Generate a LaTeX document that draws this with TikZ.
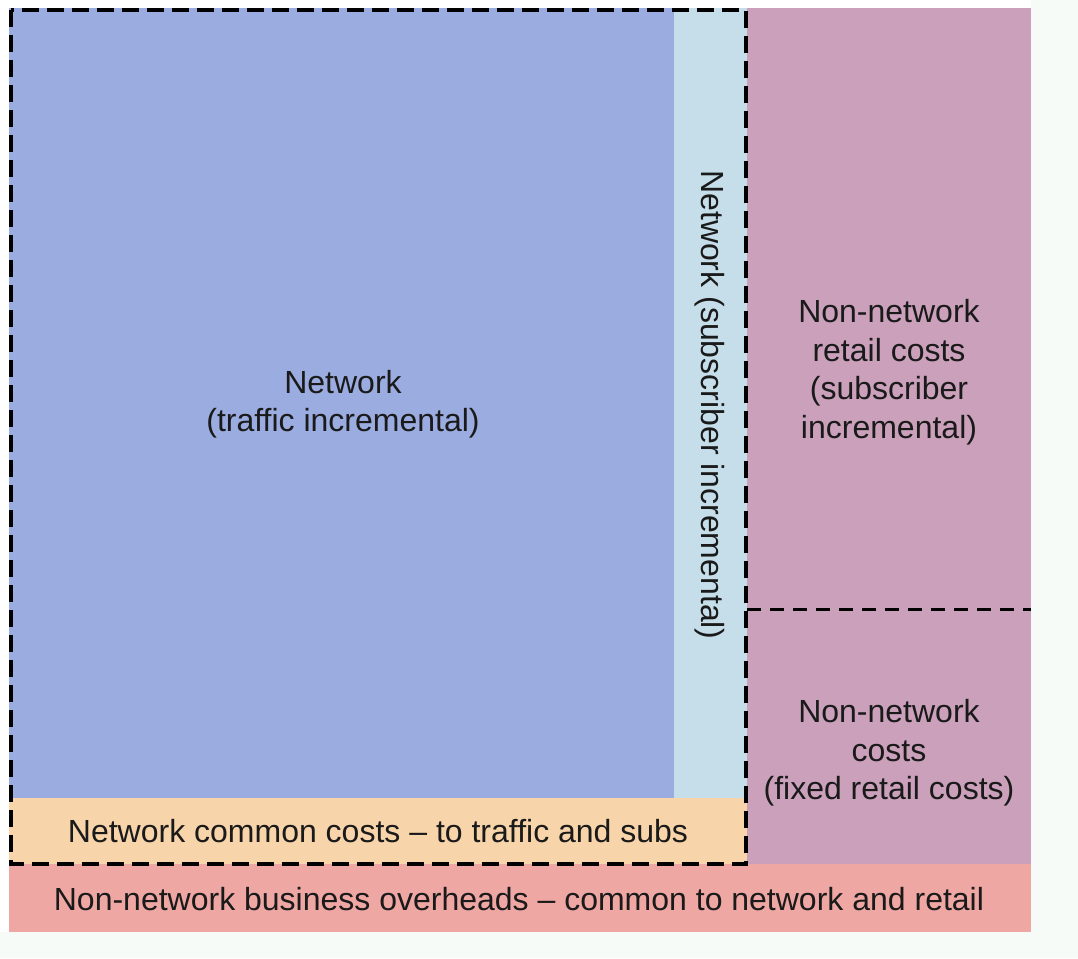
\documentclass[tikz,border=0pt]{standalone}
\usepackage{fontspec}
\setmainfont{Liberation Sans}
\definecolor{netblue}{HTML}{9BADE0}
\definecolor{subblue}{HTML}{C5DEEA}
\definecolor{retail}{HTML}{CBA0BB}
\definecolor{peach}{HTML}{F8D4AA}
\definecolor{overhead}{HTML}{EFA7A4}
\definecolor{bgpale}{HTML}{F7FBF8}
\definecolor{ink}{HTML}{1A1A1A}
\begin{document}
\begin{tikzpicture}[x=1pt,y=-1pt,
  lbl/.style={text=ink,align=center,font=\fontsize{32}{38.5}\selectfont,inner sep=0pt},
  bigdash/.style={draw=black,line width=4pt,dash pattern=on 17pt off 8pt},
  smalldash/.style={draw=black,line width=3pt,dash pattern=on 14pt off 9pt}]
\useasboundingbox (0,0) rectangle (1078,958);
\fill[white] (0,0) rectangle (1078,958);
\fill[bgpale] (1031,0) rectangle (1078,958);
\fill[bgpale] (0,932) rectangle (1078,958);
% regions
\fill[netblue] (9,8) rectangle (674,798);
\fill[subblue] (674,8) rectangle (747,798);
\fill[retail] (747,8) rectangle (1031,864);
\fill[peach] (9,798) rectangle (747,864);
\fill[overhead] (9,864) rectangle (1031,932);
% coordinates for dashed outlines
\coordinate (dTL) at (11,10);
\coordinate (dBR) at (746,864);
\coordinate (hL) at (747,609);
\coordinate (hR) at (1031,609);
\draw[bigdash] (dTL) rectangle (dBR);
\draw[smalldash] (hL) -- (hR);
% labels
\node[lbl] (traffic) at (343,404) {Network\\(traffic incremental)};
\node[lbl,rotate=-90] (subs) at (710,405) {Network (subscriber incremental)};
\node[lbl] (retailinc) at (889,372) {Non-network\\retail costs\\(subscriber\\incremental)};
\node[lbl] (fixedretail) at (889,753) {Non-network\\costs\\(fixed retail costs)};
\node[lbl] (common) at (378,831) {Network common costs -- to traffic and subs};
\node[lbl] (overheads) at (519,899) {Non-network business overheads -- common to network and retail};
\end{tikzpicture}
\end{document}
